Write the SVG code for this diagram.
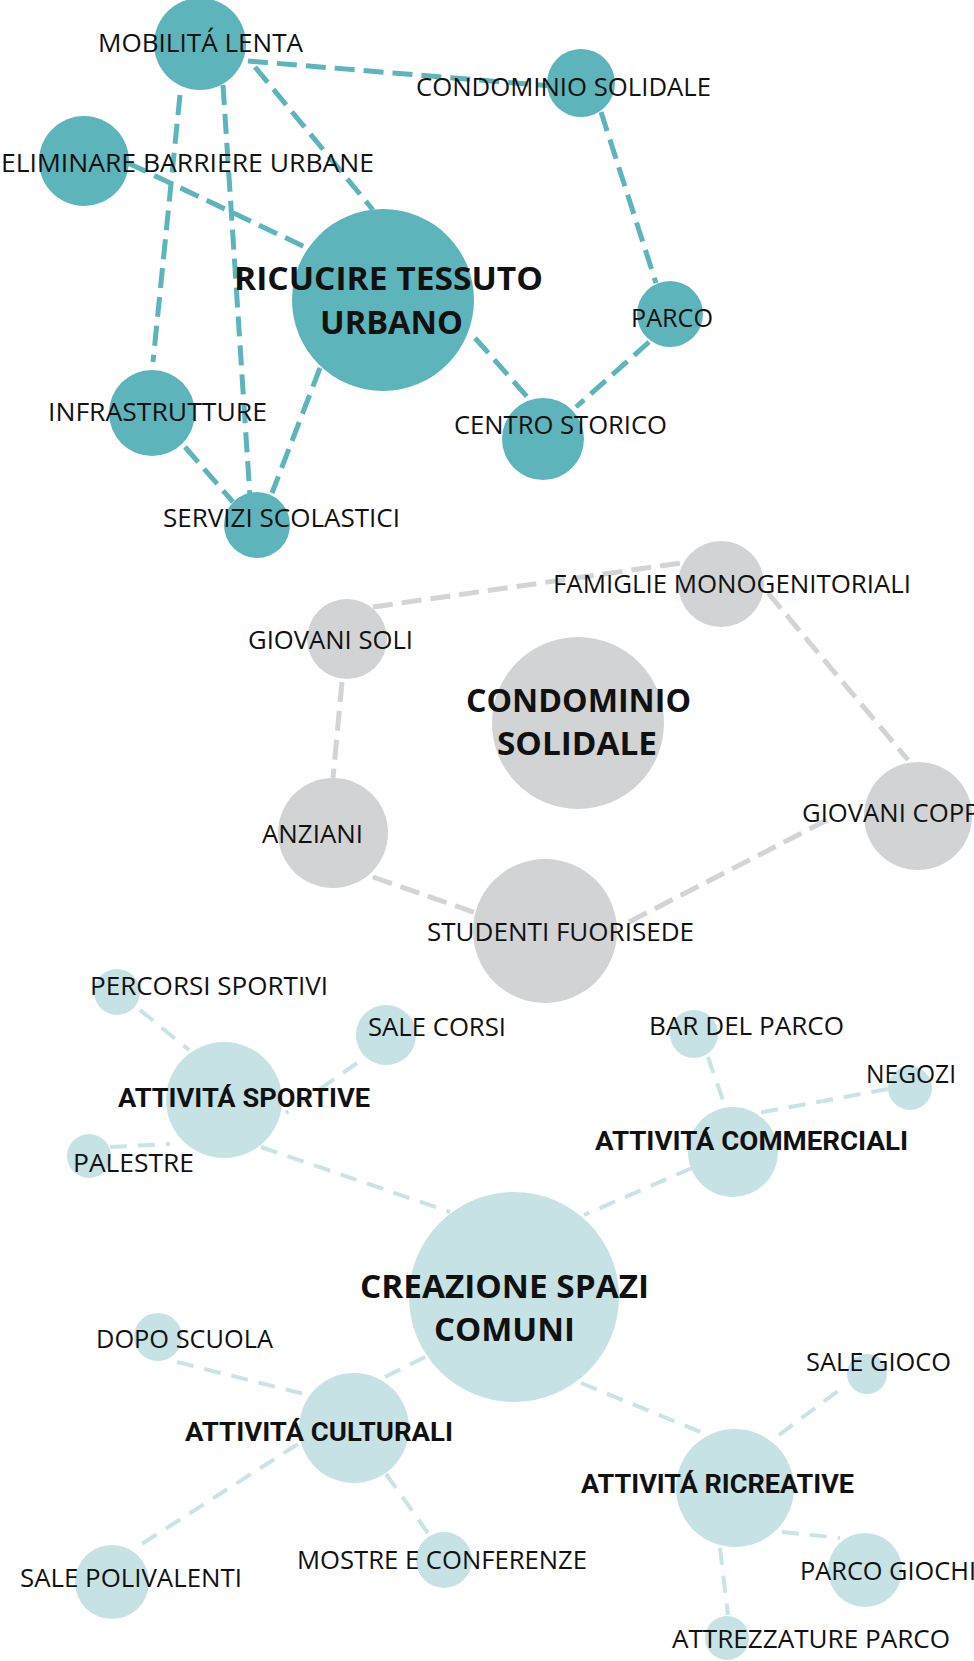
<svg xmlns="http://www.w3.org/2000/svg" width="974" height="1661" viewBox="0 0 974 1661">
<style>
.t{fill:#5db4ba}.g{fill:#d1d3d4}.b{fill:#c6e2e5}
.et{stroke:#5db4ba;stroke-width:5;stroke-dasharray:20 9;fill:none}
.eg{stroke:#d3d4d5;stroke-width:5;stroke-dasharray:20 9;fill:none}
.eb{stroke:#c9e3e6;stroke-width:4;stroke-dasharray:17 11;fill:none}
text{font-family:"Open Sans","Liberation Sans",sans-serif;fill:#111}
.r{font-size:25px}
.rt{font-size:26px}
.B{font-size:32px;font-weight:700}
.A{font-family:Roboto,"Open Sans",sans-serif;font-size:25px;font-weight:700}
</style>
<rect width="974" height="1661" fill="#fff"/>
<g id="connectors">
<line class="et" x1="248" y1="61" x2="552" y2="86"/>
<line class="et" x1="255" y1="67" x2="373" y2="210"/>
<line class="et" x1="180" y1="95" x2="153" y2="362"/>
<line class="et" x1="223" y1="85" x2="250" y2="497"/>
<line class="et" x1="128" y1="163" x2="305" y2="247"/>
<line class="et" x1="320" y1="368" x2="272" y2="493"/>
<line class="et" x1="185" y1="447" x2="233" y2="502"/>
<line class="et" x1="475" y1="338" x2="530" y2="400"/>
<line class="et" x1="601" y1="112" x2="656" y2="283"/>
<line class="et" x1="649" y1="342" x2="576" y2="407"/>
<line class="eg" x1="373" y1="607" x2="681" y2="563"/>
<line class="eg" x1="342" y1="682" x2="333" y2="778"/>
<line class="eg" x1="373" y1="877" x2="476" y2="913"/>
<line class="eg" x1="629" y1="922" x2="827" y2="820"/>
<line class="eg" x1="768" y1="593" x2="908" y2="760"/>
<line class="eb" x1="140" y1="1010" x2="189" y2="1050"/>
<line class="eb" x1="357" y1="1063" x2="286" y2="1113"/>
<line class="eb" x1="110" y1="1147" x2="170" y2="1144"/>
<line class="eb" x1="261" y1="1147" x2="450" y2="1212"/>
<line class="eb" x1="708" y1="1057" x2="725" y2="1106"/>
<line class="eb" x1="888" y1="1089" x2="758" y2="1113"/>
<line class="eb" x1="692" y1="1168" x2="584" y2="1215"/>
<line class="eb" x1="177" y1="1362" x2="304" y2="1394"/>
<line class="eb" x1="385" y1="1377" x2="427" y2="1356"/>
<line class="eb" x1="298" y1="1444" x2="137" y2="1547"/>
<line class="eb" x1="386" y1="1474" x2="428" y2="1533"/>
<line class="eb" x1="581" y1="1383" x2="708" y2="1435"/>
<line class="eb" x1="779" y1="1435" x2="846" y2="1385"/>
<line class="eb" x1="782" y1="1532" x2="840" y2="1538"/>
<line class="eb" x1="720" y1="1548" x2="728" y2="1615"/>
</g>
<g id="n-mobilita"><circle class="t" cx="200" cy="44" r="46"/><text class="rt" x="98" y="52" textLength="205" lengthAdjust="spacingAndGlyphs">MOBILITÁ LENTA</text></g>
<g id="n-condominio-top"><circle class="t" cx="581" cy="83" r="34"/><text class="rt" x="416" y="96" textLength="295" lengthAdjust="spacingAndGlyphs">CONDOMINIO SOLIDALE</text></g>
<g id="n-eliminare"><circle class="t" cx="84" cy="161" r="45"/><text class="rt" x="1" y="172" textLength="373" lengthAdjust="spacingAndGlyphs">ELIMINARE BARRIERE URBANE</text></g>
<g id="n-ricucire"><circle class="t" cx="383" cy="300" r="91"/><text class="B" x="234" y="290" textLength="309" lengthAdjust="spacingAndGlyphs">RICUCIRE TESSUTO</text><text class="B" x="320" y="334" textLength="143" lengthAdjust="spacingAndGlyphs">URBANO</text></g>
<g id="n-parco"><circle class="t" cx="670" cy="314" r="33"/><text class="rt" x="631" y="327" textLength="82" lengthAdjust="spacingAndGlyphs">PARCO</text></g>
<g id="n-infrastrutture"><circle class="t" cx="152" cy="413" r="43"/><text class="rt" x="48" y="421" textLength="219" lengthAdjust="spacingAndGlyphs">INFRASTRUTTURE</text></g>
<g id="n-centro"><circle class="t" cx="543" cy="439" r="41"/><text class="rt" x="454" y="434" textLength="213" lengthAdjust="spacingAndGlyphs">CENTRO STORICO</text></g>
<g id="n-servizi"><circle class="t" cx="257" cy="525" r="33"/><text class="rt" x="163" y="527" textLength="237" lengthAdjust="spacingAndGlyphs">SERVIZI SCOLASTICI</text></g>
<g id="n-famiglie"><circle class="g" cx="721" cy="584" r="43"/><text class="r" x="553" y="593" textLength="358" lengthAdjust="spacingAndGlyphs">FAMIGLIE MONOGENITORIALI</text></g>
<g id="n-giovani-soli"><circle class="g" cx="347" cy="639" r="40"/><text class="r" x="248" y="649" textLength="165" lengthAdjust="spacingAndGlyphs">GIOVANI SOLI</text></g>
<g id="n-condominio"><circle class="g" cx="578" cy="723" r="86"/><text class="B" x="466" y="712" textLength="225" lengthAdjust="spacingAndGlyphs">CONDOMINIO</text><text class="B" x="497" y="755" textLength="160" lengthAdjust="spacingAndGlyphs">SOLIDALE</text></g>
<g id="n-anziani"><circle class="g" cx="333" cy="833" r="55"/><text class="r" x="262" y="843" textLength="101" lengthAdjust="spacingAndGlyphs">ANZIANI</text></g>
<g id="n-studenti"><circle class="g" cx="545" cy="931" r="72"/><text class="r" x="427" y="941" textLength="267" lengthAdjust="spacingAndGlyphs">STUDENTI FUORISEDE</text></g>
<g id="n-giovani-coppie"><circle class="g" cx="918" cy="816" r="54"/><text class="r" x="802" y="822" textLength="199" lengthAdjust="spacingAndGlyphs">GIOVANI COPPIE</text></g>
<g id="n-percorsi"><circle class="b" cx="117" cy="992" r="23"/><text class="r" x="90" y="995" textLength="238" lengthAdjust="spacingAndGlyphs">PERCORSI SPORTIVI</text></g>
<g id="n-sale-corsi"><circle class="b" cx="386" cy="1035" r="30"/><text class="r" x="368" y="1036" textLength="138" lengthAdjust="spacingAndGlyphs">SALE CORSI</text></g>
<g id="n-sportive"><circle class="b" cx="224" cy="1100" r="58"/><text class="A" x="118" y="1107" textLength="252" lengthAdjust="spacingAndGlyphs">ATTIVITÁ SPORTIVE</text></g>
<g id="n-palestre"><circle class="b" cx="89" cy="1156" r="22"/><text class="r" x="73" y="1172" textLength="121" lengthAdjust="spacingAndGlyphs">PALESTRE</text></g>
<g id="n-bar"><circle class="b" cx="694" cy="1034" r="24"/><text class="r" x="649" y="1035" textLength="195" lengthAdjust="spacingAndGlyphs">BAR DEL PARCO</text></g>
<g id="n-negozi"><circle class="b" cx="910" cy="1088" r="22"/><text class="r" x="866" y="1083" textLength="90" lengthAdjust="spacingAndGlyphs">NEGOZI</text></g>
<g id="n-commerciali"><circle class="b" cx="733" cy="1152" r="45"/><text class="A" x="595" y="1150" textLength="313" lengthAdjust="spacingAndGlyphs">ATTIVITÁ COMMERCIALI</text></g>
<g id="n-creazione"><circle class="b" cx="514" cy="1297" r="105"/><text class="B" x="360" y="1298" textLength="289" lengthAdjust="spacingAndGlyphs">CREAZIONE SPAZI</text><text class="B" x="434" y="1341" textLength="141" lengthAdjust="spacingAndGlyphs">COMUNI</text></g>
<g id="n-dopo-scuola"><circle class="b" cx="158" cy="1337" r="24"/><text class="r" x="96" y="1348" textLength="177" lengthAdjust="spacingAndGlyphs">DOPO SCUOLA</text></g>
<g id="n-culturali"><circle class="b" cx="354" cy="1428" r="55"/><text class="A" x="185" y="1441" textLength="268" lengthAdjust="spacingAndGlyphs">ATTIVITÁ CULTURALI</text></g>
<g id="n-sale-polivalenti"><circle class="b" cx="112" cy="1582" r="37"/><text class="r" x="20" y="1587" textLength="222" lengthAdjust="spacingAndGlyphs">SALE POLIVALENTI</text></g>
<g id="n-mostre"><circle class="b" cx="444" cy="1560" r="28"/><text class="r" x="297" y="1569" textLength="290" lengthAdjust="spacingAndGlyphs">MOSTRE E CONFERENZE</text></g>
<g id="n-ricreative"><circle class="b" cx="735" cy="1488" r="59"/><text class="A" x="581" y="1493" textLength="273" lengthAdjust="spacingAndGlyphs">ATTIVITÁ RICREATIVE</text></g>
<g id="n-sale-gioco"><circle class="b" cx="867" cy="1374" r="20"/><text class="r" x="806" y="1371" textLength="145" lengthAdjust="spacingAndGlyphs">SALE GIOCO</text></g>
<g id="n-parco-giochi"><circle class="b" cx="865" cy="1570" r="37"/><text class="r" x="800" y="1580" textLength="176" lengthAdjust="spacingAndGlyphs">PARCO GIOCHI</text></g>
<g id="n-attrezzature"><circle class="b" cx="727" cy="1638" r="22"/><text class="r" x="672" y="1648" textLength="278" lengthAdjust="spacingAndGlyphs">ATTREZZATURE PARCO</text></g>
</svg>
